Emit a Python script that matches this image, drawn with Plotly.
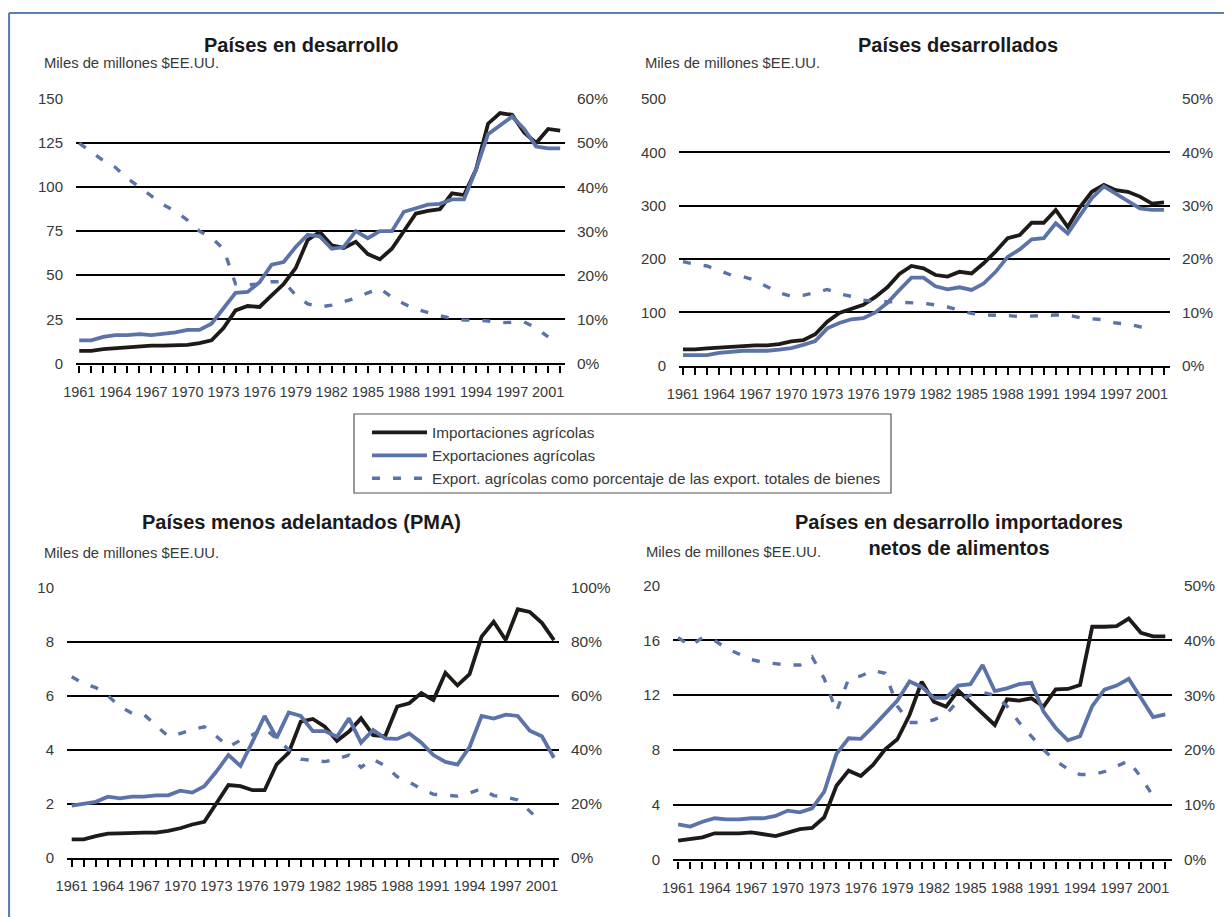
import plotly.graph_objects as go

# ---------------- data ----------------
years = list(range(1961, 2002))
pct_years = list(range(1961, 2001))
tick_years = [1961, 1964, 1967, 1970, 1973, 1976, 1979, 1982, 1985, 1988, 1991, 1994, 1997, 2000]
tick_labels = ["1961", "1964", "1967", "1970", "1973", "1976", "1979", "1982", "1985",
               "1988", "1991", "1994", "1997", "2001"]

series_names = ["Importaciones agrícolas", "Exportaciones agrícolas",
                "Export. agrícolas como porcentaje de las export. totales de bienes"]

# Países en desarrollo
imp_dev = [7, 7, 8, 8.5, 9.5, 9.5, 10, 10, 10, 10.5, 11.5, 13, 20, 30, 32.5, 32, 38.5, 45, 54, 70,
           74.5, 67, 65.5, 69, 62, 59, 65, 75, 85, 86.5, 87.5, 96.5, 95.5, 110, 136, 142, 141, 131,
           125, 133, 132]
exp_dev = [13, 13, 15, 16, 16, 16.5, 16, 16.5, 17.5, 19, 19, 22.5, 31, 40, 40.5, 46, 56, 57.5, 66, 73,
           72, 65, 66, 75, 71, 75, 75, 86, 88, 90, 90.5, 93, 93, 110, 130, 135, 140, 133, 123, 122, 122]
pct_dev = [50, 48, 46, 44.5, 42, 40, 38, 36, 34.5, 32.5, 30, 28.5, 26, 18, 17.8, 18, 18.5, 18.5, 15.5,
           13.5, 12.8, 13.2, 14, 14.8, 16, 17, 15, 13.5, 12.3, 11.5, 10.8, 10.2, 9.8, 9.8, 9.6, 9.2,
           9.3, 9.4, 8, 6]

# Países desarrollados
imp_dvd = [30.6, 30.6, 32.5, 34, 35.6, 38, 38, 38, 40.6, 45.6, 48, 59, 82.5, 99, 105.6, 114, 129, 147,
           172, 187, 182.5, 170, 167, 176, 173, 192, 214, 239, 245, 268, 268, 292, 260, 297, 326, 339,
           329, 326, 317, 304, 306]
exp_dvd = [20, 20, 20, 24, 26.5, 28, 28, 28, 30, 33, 39, 46, 70, 80, 87, 89, 100, 118, 142, 165, 165,
           149, 143, 147, 142, 154, 176, 204, 218, 237, 239, 267, 248, 282, 314, 336, 323, 308, 295,
           292, 292]
pct_dvd = [19.5, 19, 18.7, 17.8, 17, 16.7, 16, 14.8, 13.7, 13, 13.2, 13.7, 14.3, 13.5, 13, 12.3, 12,
           12, 11.9, 11.8, 11.7, 11.4, 11, 10.4, 9.8, 9.5, 9.5, 9.4, 9.2, 9.3, 9.5, 9.5, 9.5, 9, 8.8,
           8.6, 8, 7.8, 7.3, 7]

# Países menos adelantados (PMA)
imp_pma = [0.68, 0.68, 0.8, 0.89, 0.9, 0.93, 0.93, 0.93, 0.99, 1.09, 1.23, 1.33, 2.0, 2.69, 2.65, 2.5,
           2.5, 3.46, 3.89, 5.04, 5.14, 4.85, 4.33, 4.67, 5.16, 4.54, 4.5, 5.6, 5.72, 6.1, 5.84, 6.85,
           6.38, 6.8, 8.19, 8.74, 8.06, 9.2, 9.1, 8.7, 8.06]
exp_pma = [1.93, 1.99, 2.07, 2.26, 2.2, 2.26, 2.26, 2.31, 2.31, 2.48, 2.41, 2.65, 3.19, 3.8, 3.4, 4.3,
           5.25, 4.44, 5.38, 5.25, 4.69, 4.69, 4.48, 5.16, 4.26, 4.73, 4.42, 4.4, 4.6, 4.26, 3.8, 3.55,
           3.45, 4.1, 5.25, 5.15, 5.3, 5.25, 4.7, 4.5, 3.7]
pct_pma = [67, 64.5, 63, 60, 56, 53.5, 53, 49, 45, 46, 47.5, 48.5, 45, 41, 43.5, 45.5, 48, 44, 40, 36.5,
           36, 35.6, 36.5, 38, 33.5, 36.5, 34, 30, 28, 25.5, 23.5, 23, 22.8, 24, 25.5, 23, 22.5, 21.4,
           17, 13]

# Países en desarrollo importadores netos de alimentos
imp_nfi = [1.36, 1.46, 1.6, 1.9, 1.9, 1.9, 1.97, 1.85, 1.7, 1.95, 2.2, 2.3, 3.07, 5.38, 6.48, 6.09,
           6.9, 8.04, 8.77, 10.55, 12.98, 11.52, 11.16, 12.33, 11.52, 10.67, 9.82, 11.69, 11.6, 11.77,
           11.16, 12.42, 12.45, 12.74, 17.0, 17.0, 17.05, 17.6, 16.56, 16.3, 16.3]
exp_nfi = [2.56, 2.39, 2.75, 3.0, 2.92, 2.92, 3.0, 3.0, 3.17, 3.56, 3.43, 3.73, 4.95, 7.7, 8.85, 8.8,
           9.7, 10.7, 11.6, 13.0, 12.6, 11.8, 11.8, 12.7, 12.8, 14.2, 12.3, 12.5, 12.8, 12.9, 10.8, 9.6,
           8.7, 9.0, 11.2, 12.4, 12.7, 13.2, 11.8, 10.4, 10.6]
pct_nfi = [40.5, 39, 40.5, 40, 38.5, 37.5, 36.5, 36, 35.8, 35.5, 35.5, 37, 33, 27, 33, 33.5, 34.5, 34,
           28, 25, 25, 25.5, 26.5, 29, 30, 30.5, 30, 28, 25, 22.5, 20, 18, 16.5, 15.5, 15.5, 16, 17,
           18, 15, 11.5]

# ---------------- styling / layout ----------------
OFF = 8                      # page body margin in the browser
W, H = 1232 - OFF, 917 - OFF  # figure size so it fits the window exactly
BLACK = "#1e1a18"
BLUE = "#5b73a8"
FRAME = "#5a7fb3"
TXT = "#383838"
FONT = "Liberation Sans, Arial, sans-serif"


def fx(p):
    return (p - OFF) / W


def fy(p):
    return 1 - (p - OFF) / H


panels = [
    dict(title="<b>Países en desarrollo</b>", imp=imp_dev, exp=exp_dev, pct=pct_dev,
         ymax=150, ystep=25, pmax=60, pstep=10,
         box=(76, 565, 99, 363.3), pad=(0.27, 0.4), tpos=(301, 45), ypos=(41.5, 63)),
    dict(title="<b>Países desarrollados</b>", imp=imp_dvd, exp=exp_dvd, pct=pct_dvd,
         ymax=500, ystep=100, pmax=50, pstep=10,
         box=(679, 1170, 99, 365.7), pad=(0.33, 0.5), tpos=(958, 45), ypos=(642.5, 63)),
    dict(title="<b>Países menos adelantados (PMA)</b>", imp=imp_pma, exp=exp_pma, pct=pct_pma,
         ymax=10, ystep=2, pmax=100, pstep=20,
         box=(67, 559, 587.7, 857.7), pad=(0.39, 0.42), tpos=(301.5, 522), ypos=(42.3, 553)),
    dict(title="<b>Países en desarrollo importadores<br>netos de alimentos</b>", imp=imp_nfi,
         exp=exp_nfi, pct=pct_nfi, ymax=20, ystep=4, pmax=50, pstep=10,
         box=(673, 1172, 585.7, 859.3), pad=(0.42, 0.55), tpos=(958.5, 535), ypos=(643.7, 552)),
]

fig = go.Figure()
layout = {}
annotations = []
tick_text_all = [tick_labels[tick_years.index(y)] if y in tick_years else "" for y in years]

for k, p in enumerate(panels):
    n = k + 1
    xa = "x" if n == 1 else f"x{n}"
    yl_n = 2 * n - 1
    yr_n = 2 * n
    yl = "y" if yl_n == 1 else f"y{yl_n}"
    yr = f"y{yr_n}"
    show = (n == 1)

    fig.add_trace(go.Scatter(x=years, y=p["imp"], mode="lines", name=series_names[0],
                             line=dict(color=BLACK, width=3.8), xaxis=xa, yaxis=yl,
                             showlegend=show, legendrank=1))
    fig.add_trace(go.Scatter(x=years, y=p["exp"], mode="lines", name=series_names[1],
                             line=dict(color=BLUE, width=3.8), xaxis=xa, yaxis=yl,
                             showlegend=show, legendrank=2))
    fig.add_trace(go.Scatter(x=pct_years, y=p["pct"], mode="lines", name=series_names[2],
                             line=dict(color=BLUE, width=3.4, dash="8px,13px"), xaxis=xa, yaxis=yr,
                             showlegend=show, legendrank=3))

    x0, x1, y0, y1 = p["box"]
    padl, padr = p["pad"]
    layout["xaxis" if n == 1 else f"xaxis{n}"] = dict(
        domain=[fx(x0), fx(x1)], anchor=yl, range=[1961 - padl, 2001 + padr],
        tickmode="array", tickvals=years, ticktext=tick_text_all,
        ticks="outside", ticklen=7, tickwidth=2, tickcolor="#000",
        showline=True, linecolor="#000", linewidth=2.4, showgrid=False, zeroline=False,
        tickfont=dict(family=FONT, size=14.5, color=TXT), tickangle=0, ticklabelstandoff=7,
        automargin=False, fixedrange=True)
    layout["yaxis" if yl_n == 1 else f"yaxis{yl_n}"] = dict(
        domain=[fy(y1), fy(y0)], anchor=xa, range=[0, p["ymax"]],
        tickmode="linear", tick0=0, dtick=p["ystep"], showgrid=True, gridcolor="#000",
        gridwidth=2, zeroline=False, showline=False, ticks="",
        tickfont=dict(family=FONT, size=15, color=TXT), ticklabelstandoff=12,
        automargin=False, fixedrange=True)
    layout[f"yaxis{yr_n}"] = dict(
        overlaying=yl, side="right", anchor=xa, range=[0, p["pmax"]],
        tickmode="linear", tick0=0, dtick=p["pstep"], ticksuffix="%", showgrid=False,
        zeroline=False, showline=False, ticks="",
        tickfont=dict(family=FONT, size=15.5, color=TXT), ticklabelstandoff=11,
        automargin=False, fixedrange=True)

    tx, ty = p["tpos"]
    annotations.append(dict(text=p["title"], x=fx(tx), y=fy(ty), xref="paper", yref="paper",
                            xanchor="center", yanchor="middle", showarrow=False,
                            font=dict(family=FONT, size=20, color="#1a1a1a")))
    ax_, ay_ = p["ypos"]
    annotations.append(dict(text="Miles de millones $EE.UU.", x=fx(ax_), y=fy(ay_), xref="paper",
                            yref="paper", xanchor="left", yanchor="middle", showarrow=False,
                            font=dict(family=FONT, size=14.8, color=TXT)))

shapes = [
    # outer frame (top and left edges)
    dict(type="line", xref="paper", yref="paper", x0=fx(9), x1=1.0, y0=fy(13), y1=fy(13),
         line=dict(color=FRAME, width=2)),
    dict(type="line", xref="paper", yref="paper", x0=fx(9), x1=fx(9), y0=fy(13), y1=0,
         line=dict(color=FRAME, width=2.2)),
    # legend frame
    dict(type="rect", xref="paper", yref="paper", x0=fx(354), x1=fx(891), y0=fy(414),
         y1=fy(493), line=dict(color="#555555", width=1.2), fillcolor="rgba(0,0,0,0)",
         layer="below"),
]

fig.update_layout(
    width=W, height=H, margin=dict(l=0, r=0, t=0, b=0, autoexpand=False),
    paper_bgcolor="white", plot_bgcolor="white",
    annotations=annotations, shapes=shapes,
    legend=dict(x=fx(367), y=fy(416), xanchor="left", yanchor="top",
                borderwidth=0, bgcolor="rgba(0,0,0,0)",
                font=dict(family=FONT, size=15.3, color=TXT), itemwidth=55,
                traceorder="normal"),
    **layout,
)

fig.write_html("out.html")
